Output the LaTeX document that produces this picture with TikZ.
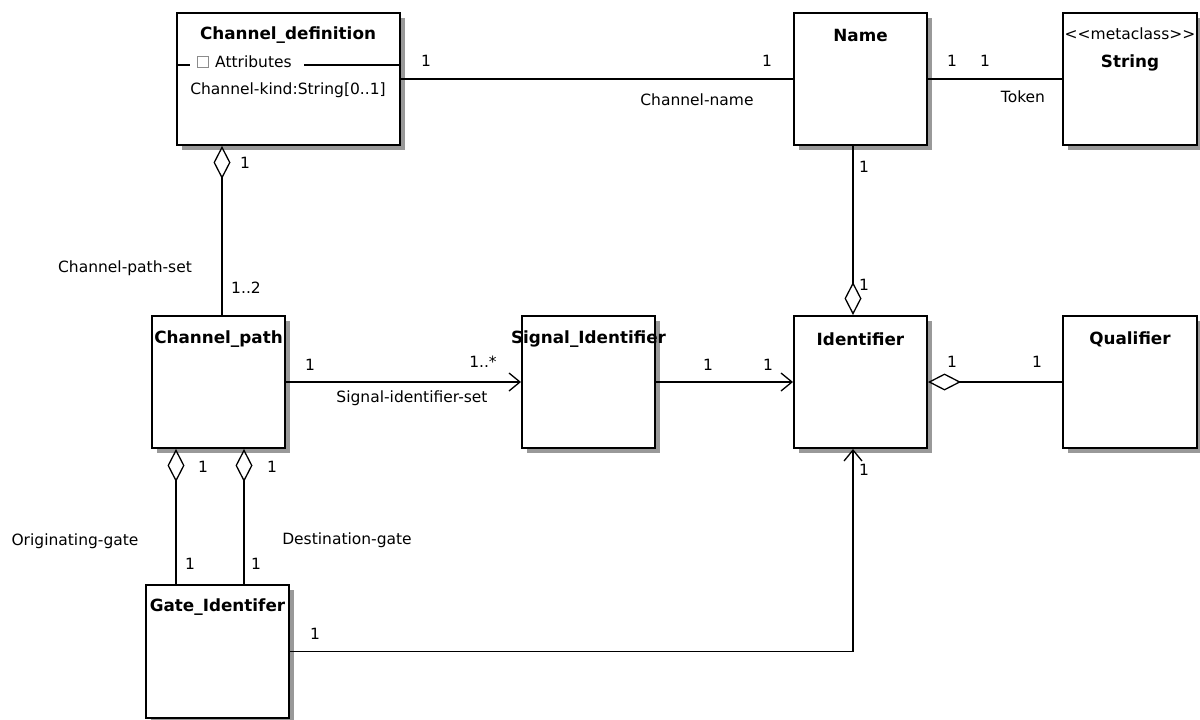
\documentclass[tikz,border=0pt]{standalone}
\usepackage{fontspec}
\setmainfont{DejaVu Sans}
\usetikzlibrary{arrows.meta,shadows}
\begin{document}
\begin{tikzpicture}[x=1pt,y=-1pt,
  box/.style={draw, line width=2pt, fill=white, inner sep=0pt,
    general shadow={fill=black!40, shadow xshift=5pt, shadow yshift=-5pt}},
  ttl/.style={font=\fontsize{16.8}{19}\selectfont\bfseries, inner sep=0pt},
  lbl/.style={font=\fontsize{15.5}{18}\selectfont, inner sep=0pt},
  conn/.style={line width=1.8pt},
  agg/.style={conn, {Diamond[fill=white, length=33pt, width=17pt, line width=1.3pt]}-},
  nav/.style={conn, -{Straight Barb[length=11pt, width=18pt, line width=1.3pt]}},
]
\useasboundingbox[fill=white] (0,0) rectangle (1200,720);

% boxes
\node[box, minimum width=223pt, minimum height=132pt] (cdef) at (288.5,79) {};
\node[box, minimum width=133pt, minimum height=132pt] (name) at (860.5,79) {};
\node[box, minimum width=134pt, minimum height=132pt] (string) at (1130,79) {};
\node[box, minimum width=133pt, minimum height=132pt] (chpath) at (218.5,382) {};
\node[box, minimum width=133pt, minimum height=132pt] (sig) at (588.5,382) {};
\node[box, minimum width=133pt, minimum height=132pt] (ident) at (860.5,382) {};
\node[box, minimum width=134pt, minimum height=132pt] (qual) at (1130,382) {};
\node[box, minimum width=143pt, minimum height=133pt] (gate) at (217.5,651.5) {};

% titles
\node[ttl] (t-cdef) at (288,35) {Channel\_definition};
\node[ttl] (t-name) at (860.5,35) {Name};
\node[lbl] (t-meta) at (1130,34) {<\kern0pt<metaclass>\kern0pt>};
\node[ttl] (t-string) at (1130,63) {String};
\node[ttl] (t-chpath) at (218.5,339) {Channel\_path};
\node[ttl] (t-sig) at (588.5,339) {Signal\_Identifier};
\node[ttl] (t-ident) at (860.5,339) {Identifier};
\node[ttl] (t-qual) at (1130,339) {Qualifier};
\node[ttl] (t-gate) at (217.5,607) {Gate\_Identifer};

% attributes compartment
\node[draw=black!45, line width=1pt, minimum size=11pt, inner sep=0pt] (attsq) at (203,62) {};
\node[lbl, anchor=west] (attr) at (215,62) {Attributes};
\draw[line width=1.8pt] ([yshift=-53pt]cdef.north west) -- ++(14,0);
\draw[line width=1.8pt] ([yshift=-53pt]cdef.north east) -- ++(-97,0);
\node[lbl] (ckind) at (288,90) {Channel-kind:String[0..1]};

% connectors
\coordinate (vx) at (853,0);
\coordinate (ax) at (222,0);
\coordinate (og) at (176,0);
\coordinate (dg) at (244,0);
\draw[conn] (cdef.east) -- (name.west);
\draw[conn] (name.east) -- (string.west);
\draw[agg] (cdef.south -| ax) -- (chpath.north -| ax);
\draw[nav] (chpath.east) -- (sig.west);
\draw[nav] (sig.east) -- (ident.west);
\draw[agg] (ident.north -| vx) -- (name.south -| vx);
\draw[agg] (ident.east) -- (qual.west);
\draw[nav] (gate.east) -| (ident.south -| vx);
\draw[agg] (chpath.south -| og) -- (gate.north -| og);
\draw[agg] (chpath.south -| dg) -- (gate.north -| dg);

% labels
\node[lbl] (m1) at (426,61) {1};
\node[lbl] (m2) at (767,61) {1};
\node[lbl] (l-cname) at (697,100) {Channel-name};
\node[lbl] (m3) at (952,61) {1};
\node[lbl] (m4) at (985,61) {1};
\node[lbl] (l-token) at (1023,97) {Token};
\node[lbl] (m5) at (245,163) {1};
\node[lbl] (l-cps) at (125,268) {Channel-path-set};
\node[lbl] (m6) at (246,288) {1..2};
\node[lbl] (m7) at (864,167) {1};
\node[lbl] (m8) at (864,285) {1};
\node[lbl] (m9) at (310,365) {1};
\node[lbl] (m10) at (483,362) {1..*};
\node[lbl] (l-sis) at (412,398) {Signal-identifier-set};
\node[lbl] (m11) at (708,365) {1};
\node[lbl] (m12) at (768,365) {1};
\node[lbl] (m13) at (952,362) {1};
\node[lbl] (m14) at (1037,362) {1};
\node[lbl] (m15) at (203,467) {1};
\node[lbl] (m16) at (272,467) {1};
\node[lbl] (m17) at (190,564) {1};
\node[lbl] (m18) at (256,564) {1};
\node[lbl] (l-og) at (75,541) {Originating-gate};
\node[lbl] (l-dg) at (347,540) {Destination-gate};
\node[lbl] (m19) at (315,634) {1};
\node[lbl] (m20) at (864,470) {1};
\end{tikzpicture}
\end{document}
